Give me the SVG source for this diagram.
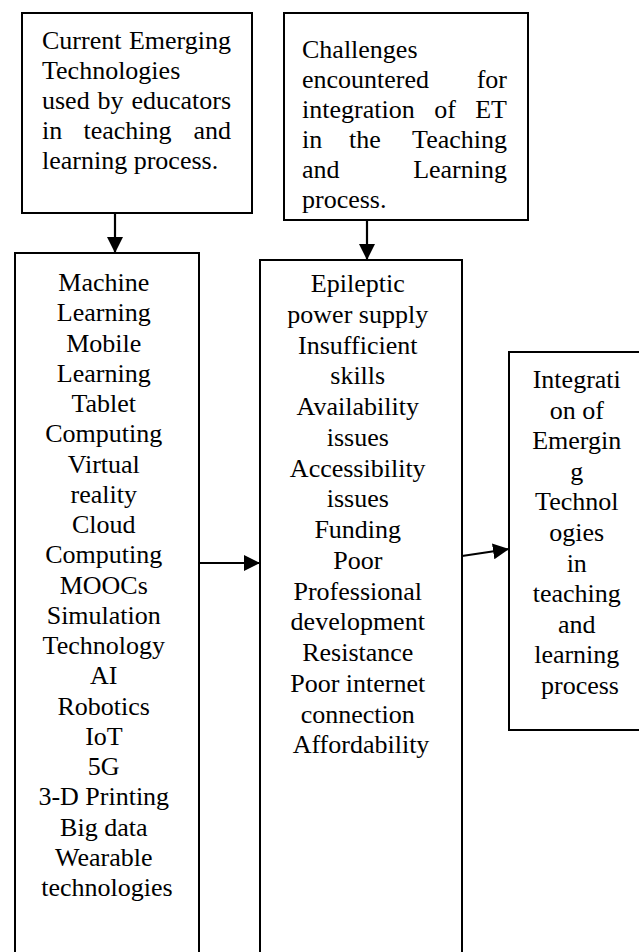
<svg xmlns="http://www.w3.org/2000/svg" width="639" height="952" viewBox="0 0 639 952">
<style>
.box{fill:#fff;stroke:#000;stroke-width:2}
.t{font-family:"Liberation Serif","Times New Roman",serif;font-size:26px;fill:#000}
.c{text-anchor:middle}
.e{text-anchor:end}
.m{text-anchor:middle}
.conn{stroke:#000;stroke-width:2.2;fill:none;marker-end:url(#ah)}
</style>
<defs>
<marker id="ah" markerUnits="userSpaceOnUse" markerWidth="17" markerHeight="16" refX="16" refY="8" orient="auto">
<path d="M0,0 L16,8 L0,16 z" fill="#000"/>
</marker>
</defs>
<rect width="639" height="952" fill="#fff"/>
<g id="node-current">
<rect class="box" x="22" y="13" width="230" height="200"/>
<text class="t" y="48.5"><tspan x="42">Current</tspan><tspan x="231" class="e">Emerging</tspan></text>
<text class="t" x="42" y="78.5">Technologies</text>
<text class="t" y="108.5"><tspan x="42">used</tspan><tspan x="110.5" class="m">by</tspan><tspan x="231" class="e">educators</tspan></text>
<text class="t" y="138.5"><tspan x="42">in</tspan><tspan x="127.5" class="m">teaching</tspan><tspan x="231" class="e">and</tspan></text>
<text class="t" x="42" y="168.5">learning process.</text>
</g>
<g id="node-challenges">
<rect class="box" x="284" y="13" width="244" height="207"/>
<text class="t" x="302" y="58">Challenges</text>
<text class="t" y="88"><tspan x="302">encountered</tspan><tspan x="507" class="e">for</tspan></text>
<text class="t" y="118"><tspan x="302">integration</tspan><tspan x="445" class="m">of</tspan><tspan x="507" class="e">ET</tspan></text>
<text class="t" y="148"><tspan x="302">in</tspan><tspan x="365" class="m">the</tspan><tspan x="507" class="e">Teaching</tspan></text>
<text class="t" y="178"><tspan x="302">and</tspan><tspan x="507" class="e">Learning</tspan></text>
<text class="t" x="302" y="208">process.</text>
</g>
<g id="node-technologies">
<rect class="box" x="15" y="253" width="184" height="720"/>
<text class="t c" x="107" y="291">
<tspan x="107">Machine</tspan>
<tspan x="107" dy="30.25">Learning</tspan>
<tspan x="107" dy="30.25">Mobile</tspan>
<tspan x="107" dy="30.25">Learning</tspan>
<tspan x="107" dy="30.25">Tablet</tspan>
<tspan x="107" dy="30.25">Computing</tspan>
<tspan x="107" dy="30.25">Virtual</tspan>
<tspan x="107" dy="30.25">reality</tspan>
<tspan x="107" dy="30.25">Cloud</tspan>
<tspan x="107" dy="30.25">Computing</tspan>
<tspan x="107" dy="30.25">MOOCs</tspan>
<tspan x="107" dy="30.25">Simulation</tspan>
<tspan x="107" dy="30.25">Technology</tspan>
<tspan x="107" dy="30.25">AI</tspan>
<tspan x="107" dy="30.25">Robotics</tspan>
<tspan x="107" dy="30.25">IoT</tspan>
<tspan x="107" dy="30.25">5G</tspan>
<tspan x="107" dy="30.25">3-D Printing</tspan>
<tspan x="107" dy="30.25">Big data</tspan>
<tspan x="107" dy="30.25">Wearable</tspan>
<tspan x="107" dy="30.25">technologies</tspan>
</text>
</g>
<g id="node-barriers">
<rect class="box" x="260" y="260" width="202" height="713"/>
<text class="t c" x="361" y="292">
<tspan x="361">Epileptic</tspan>
<tspan x="361" dy="30.75">power supply</tspan>
<tspan x="361" dy="30.75">Insufficient</tspan>
<tspan x="361" dy="30.75">skills</tspan>
<tspan x="361" dy="30.75">Availability</tspan>
<tspan x="361" dy="30.75">issues</tspan>
<tspan x="361" dy="30.75">Accessibility</tspan>
<tspan x="361" dy="30.75">issues</tspan>
<tspan x="361" dy="30.75">Funding</tspan>
<tspan x="361" dy="30.75">Poor</tspan>
<tspan x="361" dy="30.75">Professional</tspan>
<tspan x="361" dy="30.75">development</tspan>
<tspan x="361" dy="30.75">Resistance</tspan>
<tspan x="361" dy="30.75">Poor internet</tspan>
<tspan x="361" dy="30.75">connection</tspan>
<tspan x="361" dy="30.75">Affordability</tspan>
</text>
</g>
<g id="node-integration">
<rect class="box" x="509" y="352" width="150" height="378"/>
<text class="t c" x="580" y="388">
<tspan x="580">Integrati</tspan>
<tspan x="580" dy="30.6">on of</tspan>
<tspan x="580" dy="30.6">Emergin</tspan>
<tspan x="580" dy="30.6">g</tspan>
<tspan x="580" dy="30.6">Technol</tspan>
<tspan x="580" dy="30.6">ogies</tspan>
<tspan x="580" dy="30.6">in</tspan>
<tspan x="580" dy="30.6">teaching</tspan>
<tspan x="580" dy="30.6">and</tspan>
<tspan x="580" dy="30.6">learning</tspan>
<tspan x="580" dy="30.6">process</tspan>
</text>
</g>
<g id="connectors">
<line class="conn" x1="115" y1="213" x2="115" y2="253"/>
<line class="conn" x1="367" y1="220" x2="367" y2="260"/>
<line class="conn" x1="199" y1="563" x2="260" y2="563"/>
<line class="conn" x1="462" y1="556" x2="509" y2="549"/>
</g>
</svg>
